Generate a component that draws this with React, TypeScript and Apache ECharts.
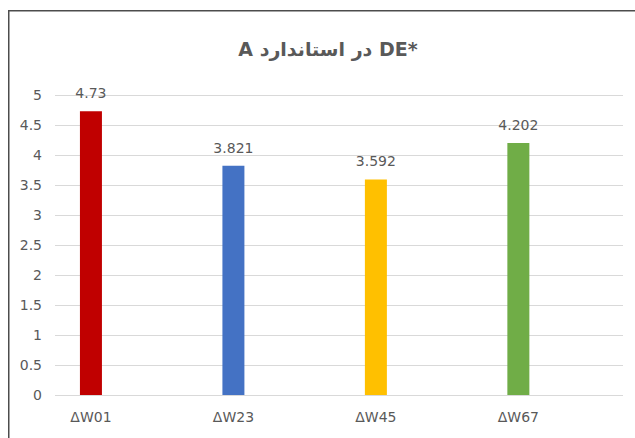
import React, { useEffect, useRef } from "react";
import * as echarts from "echarts";

const categories = ["ΔW01", "ΔW23", "ΔW45", "ΔW67"];
const values = [4.73, 3.821, 3.592, 4.202];
const barColors = ["#C00000", "#4472C4", "#FFC000", "#70AD47"];
const titleText = "*DE در استاندارد A";
const yMin = 0;
const yMax = 5;
const yStep = 0.5;

const FONT = "'DejaVu Sans', sans-serif";
const TEXT_COLOR = "#595959";

export default function App() {
  const ref = useRef<HTMLDivElement>(null);

  useEffect(() => {
    if (!ref.current) return;
    const chart = echarts.init(ref.current, null, { renderer: "svg" });
    chart.setOption({
      animation: false,
      backgroundColor: "#ffffff",
      graphic: [
        {
          type: "rect",
          silent: true,
          z: 0,
          shape: { x: 0.75, y: 2.75, width: 1000, height: 1000 },
          style: { fill: "none", stroke: "#4d4d4d", lineWidth: 1.5 },
        },
        {
          type: "text",
          x: 320,
          y: 41,
          z: 10,
          style: {
            text: titleText,
            align: "center",
            verticalAlign: "middle",
            fontFamily: FONT,
            fontWeight: "bold",
            fontSize: 19,
            fill: TEXT_COLOR,
          },
        },
      ],
      grid: [
        { left: 47, right: 12, top: 87, bottom: 43 },
        { left: 11.7, right: 45.4, top: 87, bottom: 43 },
      ],
      xAxis: [
        { gridIndex: 0, type: "value", min: 0, max: 1, show: false },
        {
          gridIndex: 1,
          type: "category",
          data: categories,
          axisLine: { show: false },
          axisTick: { show: false },
          axisLabel: {
            margin: 15,
            color: TEXT_COLOR,
            fontFamily: FONT,
            fontSize: 14,
          },
        },
      ],
      yAxis: [
        {
          gridIndex: 0,
          type: "value",
          min: yMin,
          max: yMax,
          interval: yStep,
          axisLine: { show: false },
          axisTick: { show: false },
          axisLabel: {
            margin: 13,
            color: TEXT_COLOR,
            fontFamily: FONT,
            fontSize: 14,
          },
          splitLine: { show: true, lineStyle: { color: "#D9D9D9", width: 1 } },
        },
        {
          gridIndex: 1,
          type: "value",
          min: yMin,
          max: yMax,
          show: false,
          splitLine: { show: false },
        },
      ],
      series: [
        {
          type: "bar",
          xAxisIndex: 1,
          yAxisIndex: 1,
          barWidth: 22,
          data: values.map((v, i) => ({
            value: v,
            itemStyle: { color: barColors[i] },
          })),
          label: {
            show: true,
            position: "top",
            distance: 11,
            color: TEXT_COLOR,
            fontFamily: FONT,
            fontSize: 14,
            formatter: (p: any) => String(values[p.dataIndex]),
          },
        },
      ],
    });
    return () => chart.dispose();
  }, []);

  return (
    <>
      <style>{`.rtl-chart text[style*="bold"]{direction:rtl;unicode-bidi:embed;}`}</style>
      <div
        className="rtl-chart"
        ref={ref}
        style={{ position: "absolute", left: 8, top: 8, width: 627, height: 430, overflow: "hidden" }}
      />
    </>
  );
}
